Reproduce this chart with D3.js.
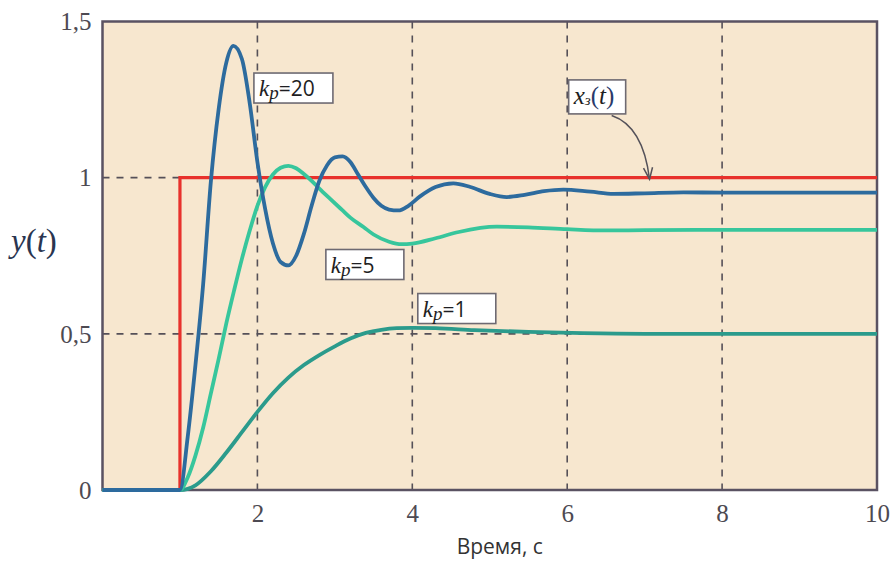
<!DOCTYPE html>
<html>
<head>
<meta charset="utf-8">
<script src="https://cdn.jsdelivr.net/npm/d3@7"></script>
<style>
  html,body{margin:0;padding:0;background:#fff;}
  svg{display:block;}
</style>
</head>
<body>
<svg id="chart" width="890" height="561"></svg>
<script>
// ---------- data ----------
const xTicks = [2, 4, 6, 8, 10];
const xTickLabels = ["2", "4", "6", "8", "10"];
const yTicks = [0, 0.5, 1, 1.5];
const yTickLabels = ["0", "0,5", "1", "1,5"];
const xGrid = [2, 4, 6, 8];
const yGrid = [0.5, 1];

// set-point step x_з(t)
const stepT = [1, 1, 10];
const stepY = [0, 1, 1];

// kp = 20
const k20T = [0, 1.0, 1.1, 1.2, 1.3, 1.4, 1.5, 1.6, 1.69, 1.8, 1.9, 2.0, 2.1, 2.2, 2.3, 2.4, 2.5, 2.6, 2.7, 2.8, 2.9, 3.0, 3.1, 3.2, 3.3, 3.4, 3.5, 3.6, 3.7, 3.82, 3.95, 4.1, 4.3, 4.53, 4.75, 5.0, 5.22, 5.45, 5.7, 5.95, 6.3, 6.6, 7.0, 7.5, 8.0, 9.0, 10.0];
const k20Y = [0, 0, 0.17, 0.40, 0.66, 0.99, 1.22, 1.37, 1.422, 1.38, 1.24, 1.05, 0.90, 0.79, 0.73, 0.719, 0.75, 0.82, 0.91, 0.99, 1.04, 1.065, 1.068, 1.05, 1.01, 0.97, 0.935, 0.91, 0.898, 0.895, 0.91, 0.94, 0.97, 0.982, 0.97, 0.948, 0.938, 0.945, 0.957, 0.962, 0.955, 0.948, 0.950, 0.953, 0.952, 0.952, 0.952];

// kp = 5
const k5T = [0, 1.0, 1.1, 1.2, 1.3, 1.4, 1.5, 1.6, 1.7, 1.8, 1.9, 2.0, 2.1, 2.2, 2.3, 2.4, 2.5, 2.6, 2.7, 2.8, 2.94, 3.1, 3.2, 3.37, 3.5, 3.7, 3.86, 4.0, 4.3, 4.6, 5.09, 5.5, 6.0, 6.5, 7.0, 8.0, 10.0];
const k5Y = [0, 0, 0.04, 0.11, 0.20, 0.31, 0.42, 0.535, 0.64, 0.74, 0.83, 0.91, 0.97, 1.01, 1.032, 1.038, 1.03, 1.012, 0.99, 0.965, 0.932, 0.895, 0.872, 0.842, 0.818, 0.795, 0.787, 0.789, 0.806, 0.826, 0.843, 0.841, 0.835, 0.831, 0.832, 0.833, 0.833];

// kp = 1
const k1T = [0, 1.0, 1.2, 1.4, 1.6, 1.8, 2.0, 2.2, 2.4, 2.6, 2.8, 3.0, 3.2, 3.4, 3.6, 3.8, 4.0, 4.3, 4.8, 5.5, 6.2, 7.0, 8.0, 10.0];
const k1Y = [0, 0, 0.015, 0.06, 0.12, 0.185, 0.25, 0.31, 0.36, 0.40, 0.432, 0.46, 0.485, 0.503, 0.513, 0.518, 0.519, 0.518, 0.512, 0.506, 0.502, 0.5, 0.5, 0.5];

// annotation boxes (anchor = top-left corner in data units)
const labelSub = ["20", "5", "1"];
const labelT = [1.955, 2.884, 4.071];
const labelY = [1.335, 0.770, 0.629];

// ---------- chart ----------
const svg = d3.select("#chart");
const x = d3.scaleLinear().domain([0, 10]).range([102.5, 877]);
const y = d3.scaleLinear().domain([0, 1.5]).range([490, 21.5]);

const serif = "'Liberation Serif','DejaVu Serif',serif";
const sans = "'Open Sans','Liberation Sans',sans-serif";

// plot background
svg.append("rect")
  .attr("x", x(0)).attr("y", y(1.5))
  .attr("width", x(10) - x(0)).attr("height", y(0) - y(1.5))
  .attr("fill", "#f7e7cf");

// grid
const gridColor = "#555058";
svg.append("g").selectAll("line").data(xGrid).join("line")
  .attr("x1", d => x(d)).attr("x2", d => x(d))
  .attr("y1", y(1.5)).attr("y2", y(0))
  .attr("stroke", gridColor).attr("stroke-width", 1.6)
  .attr("stroke-dasharray", "7,7");
svg.append("g").selectAll("line").data(yGrid).join("line")
  .attr("x1", x(0)).attr("x2", x(10))
  .attr("y1", d => y(d)).attr("y2", d => y(d))
  .attr("stroke", gridColor).attr("stroke-width", 1.6)
  .attr("stroke-dasharray", "7,7");

// frame
svg.append("rect")
  .attr("x", x(0)).attr("y", y(1.5))
  .attr("width", x(10) - x(0)).attr("height", y(0) - y(1.5))
  .attr("fill", "none").attr("stroke", "#5a5262").attr("stroke-width", 2.5);

// axes (labels only, via d3 axes)
const xAxis = svg.append("g").attr("transform", `translate(0,${y(0)})`)
  .call(d3.axisBottom(x).tickValues(xTicks).tickSize(0).tickPadding(0)
    .tickFormat((d, i) => xTickLabels[i]));
xAxis.select(".domain").remove();
xAxis.selectAll("text")
  .attr("y", 32).attr("dy", 0)
  .attr("font-family", serif).attr("font-size", 25).attr("fill", "#4d4a52");

const yAxis = svg.append("g").attr("transform", `translate(${x(0)},0)`)
  .call(d3.axisLeft(y).tickValues(yTicks).tickSize(0).tickPadding(0)
    .tickFormat((d, i) => yTickLabels[i]));
yAxis.select(".domain").remove();
yAxis.selectAll("text")
  .attr("x", -11).attr("dy", "0.33em")
  .attr("font-family", serif).attr("font-size", 25).attr("fill", "#4d4a52");

// axis titles
svg.append("text")
  .attr("x", x(5) + 10).attr("y", 554)
  .attr("text-anchor", "middle")
  .attr("font-family", sans).attr("font-size", 21).attr("fill", "#333")
  .text("Время, с");

const yt = svg.append("text")
  .attr("x", 11).attr("y", 252)
  .attr("font-family", serif).attr("font-size", 33).attr("fill", "#2a3550");
yt.append("tspan").attr("font-style", "italic").text("y");
yt.append("tspan").text("(");
yt.append("tspan").attr("font-style", "italic").text("t");
yt.append("tspan").text(")");

// curves
const line = d3.line().x(d => x(d[0])).y(d => y(d[1])).curve(d3.curveMonotoneX);
const lineLin = d3.line().x(d => x(d[0])).y(d => y(d[1]));
const zipS = (T, Y) => T.map((t, i) => [t, Y[i]]);

svg.append("path").datum(zipS(stepT, stepY)).attr("d", lineLin)
  .attr("fill", "none").attr("stroke", "#e8312c").attr("stroke-width", 3.2);
svg.append("path").datum(zipS(k1T, k1Y)).attr("d", line)
  .attr("fill", "none").attr("stroke", "#2b9b8c").attr("stroke-width", 3.8);
svg.append("path").datum(zipS(k5T, k5Y)).attr("d", line)
  .attr("fill", "none").attr("stroke", "#37c69c").attr("stroke-width", 3.8);
svg.append("path").datum(zipS(k20T, k20Y)).attr("d", line)
  .attr("fill", "none").attr("stroke", "#2d6b9e").attr("stroke-width", 3.8);

// kp labels
const lab = svg.append("g").selectAll("g").data(labelSub).join("g")
  .attr("transform", (d, i) => `translate(${x(labelT[i])},${y(labelY[i])})`);
lab.append("rect")
  .attr("width", (d) => d.length > 1 ? 79 : 78).attr("height", 30)
  .attr("fill", "#fff").attr("stroke", "#6e6a72").attr("stroke-width", 1.6);
const lt = lab.append("text").attr("x", 5).attr("y", 23)
  .attr("font-size", 23).attr("fill", "#1e1e22");
lt.append("tspan").attr("font-family", serif).attr("font-style", "italic").text("k");
lt.append("tspan").attr("font-family", serif).attr("font-style", "italic")
  .attr("font-size", 19).attr("dy", 3).text("p");
lt.append("tspan").attr("font-family", sans).attr("font-size", 21).attr("dy", -3)
  .text(d => "=" + d);

// x_з(t) label with arrow
const xsT = 6.019, xsY = 1.313;
const xs = svg.append("g").attr("transform", `translate(${x(xsT)},${y(xsY)})`);
xs.append("rect").attr("width", 57).attr("height", 34)
  .attr("fill", "#fff").attr("stroke", "#6e6a72").attr("stroke-width", 1.6);
const xt = xs.append("text").attr("x", 5).attr("y", 24)
  .attr("font-family", serif).attr("font-size", 25).attr("fill", "#1e1e22");
xt.append("tspan").attr("font-style", "italic").text("x");
xt.append("tspan").attr("font-style", "italic").attr("font-size", 15).attr("dy", 1).text("з");
xt.append("tspan").attr("dy", -1).attr("fill", "#2a3a6a").text("(");
xt.append("tspan").attr("font-style", "italic").text("t");
xt.append("tspan").attr("fill", "#2a3a6a").text(")");

const aStart = [6.574, 1.199], aCtrl = [6.98, 1.165], aEnd = [7.063, 0.995];
svg.append("path")
  .attr("d", `M${x(aStart[0])},${y(aStart[1])} Q${x(aCtrl[0])},${y(aCtrl[1])} ${x(aEnd[0])},${y(aEnd[1])}`)
  .attr("fill", "none").attr("stroke", "#55525a").attr("stroke-width", 1.5);
const ex = x(aEnd[0]), ey = y(aEnd[1]);
svg.append("path")
  .attr("d", `M${ex - 6},${ey - 11} L${ex},${ey} L${ex + 3},${ey - 12}`)
  .attr("fill", "none").attr("stroke", "#55525a").attr("stroke-width", 1.5);
</script>
</body>
</html>
